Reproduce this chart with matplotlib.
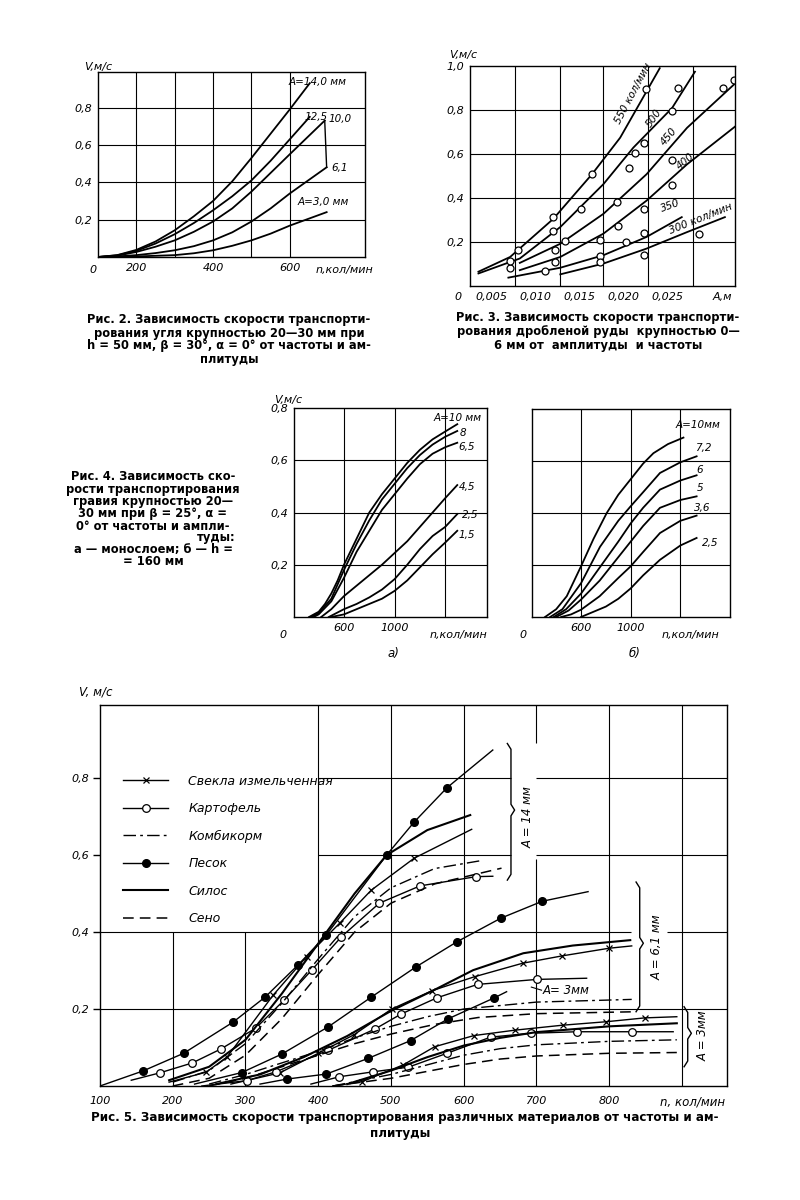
import matplotlib
matplotlib.use("Agg")
import matplotlib.pyplot as plt

W, H = 800, 1200
plt.rcParams["font.family"] = ["DejaVu Sans"]
plt.rcParams["font.style"] = "italic"
plt.rcParams["axes.linewidth"] = 1.0

# ---------------- Fig. 2: V(n) for coal, amplitude curves ----------------
fig2_a140_n = [100, 150, 200, 250, 300, 350, 400, 450, 500, 550, 600, 652]
fig2_a140_v = [0, 0.01, 0.038, 0.083, 0.143, 0.218, 0.30, 0.405, 0.53, 0.66, 0.79, 0.93]
fig2_a125_n = [100, 150, 200, 250, 300, 350, 400, 450, 500, 550, 600, 652]
fig2_a125_v = [0, 0.009, 0.033, 0.072, 0.122, 0.182, 0.25, 0.325, 0.41, 0.515, 0.63, 0.75]
fig2_a100_n = [100, 150, 200, 250, 300, 350, 400, 450, 500, 550, 600, 691]
fig2_a100_v = [0, 0.007, 0.027, 0.055, 0.089, 0.135, 0.19, 0.26, 0.35, 0.45, 0.55, 0.73]
fig2_a61_n = [100, 150, 200, 250, 300, 350, 400, 450, 500, 550, 600, 696]
fig2_a61_v = [0, 0.003, 0.01, 0.021, 0.036, 0.058, 0.089, 0.132, 0.19, 0.26, 0.34, 0.48]
fig2_a30_n = [100, 200, 300, 350, 400, 450, 500, 550, 600, 696]
fig2_a30_v = [0, 0.003, 0.01, 0.02, 0.036, 0.06, 0.089, 0.125, 0.168, 0.24]
fig2_grid_n = [200, 300, 400, 500, 600]
fig2_labels_n = {200: "200", 400: "400", 600: "600"}
fig2_grid_v = [0.2, 0.4, 0.6, 0.8]

# ---------------- Fig. 3: V(A) for ore, frequency curves ----------------
fig3_f550_a = [0.0035, 0.0071, 0.0120, 0.0164, 0.0196, 0.0241]
fig3_f550_v = [0.065, 0.132, 0.305, 0.508, 0.674, 0.99]
fig3_f500_a = [0.0035, 0.0082, 0.0128, 0.0177, 0.0211, 0.0255, 0.0281]
fig3_f500_v = [0.057, 0.125, 0.268, 0.463, 0.629, 0.809, 0.974]
fig3_f450_a = [0.0082, 0.0128, 0.0177, 0.0226, 0.0272, 0.0327]
fig3_f450_v = [0.105, 0.192, 0.328, 0.508, 0.719, 0.922]
fig3_f400_a = [0.0082, 0.0128, 0.0177, 0.0226, 0.0272, 0.0327]
fig3_f400_v = [0.072, 0.132, 0.238, 0.388, 0.553, 0.726]
fig3_f350_a = [0.0069, 0.0128, 0.0177, 0.0226, 0.0266]
fig3_f350_v = [0.038, 0.083, 0.14, 0.223, 0.313]
fig3_f300_a = [0.0128, 0.0177, 0.0226, 0.0272, 0.0315]
fig3_f300_v = [0.053, 0.102, 0.17, 0.245, 0.313]
fig3_pts_a = [0.0071, 0.0071, 0.0080, 0.0120, 0.0120, 0.0122, 0.0122, 0.0111, 0.0133,
              0.0152, 0.0164, 0.0173, 0.0173, 0.0173, 0.0192, 0.0193, 0.0203, 0.0206,
              0.0213, 0.0223, 0.0223, 0.0223, 0.0223, 0.0225, 0.0255, 0.0255, 0.0255,
              0.0262, 0.0286, 0.0313, 0.0325]
fig3_pts_v = [0.080, 0.114, 0.165, 0.313, 0.250, 0.165, 0.110, 0.068, 0.205,
              0.350, 0.508, 0.211, 0.135, 0.110, 0.380, 0.271, 0.200, 0.535,
              0.606, 0.651, 0.350, 0.241, 0.140, 0.895, 0.571, 0.794, 0.460,
              0.899, 0.238, 0.899, 0.937]
fig3_ticks_a = [0.005, 0.010, 0.015, 0.020, 0.025]
fig3_tick_labels = ["0,005", "0,010", "0,015", "0,020", "0,025"]
fig3_grid_a = [0.00765, 0.01277, 0.01769, 0.0228, 0.0279]
fig3_grid_v = [0.2, 0.4, 0.6, 0.8]

# ---------------- Fig. 4: V(n) for gravel, a) monolayer, b) h = 160 mm ----------------
fig4a_a10_n = [324, 400, 450, 500, 550, 600, 700, 800, 900, 1000, 1100, 1200, 1300, 1400, 1495]
fig4a_a10_v = [0, 0.02, 0.05, 0.09, 0.14, 0.2, 0.3, 0.4, 0.47, 0.53, 0.59, 0.64, 0.68, 0.71, 0.738]
fig4a_a8_n = [340, 400, 500, 600, 700, 800, 900, 1000, 1100, 1200, 1300, 1400, 1495]
fig4a_a8_v = [0, 0.015, 0.07, 0.18, 0.28, 0.37, 0.45, 0.51, 0.57, 0.62, 0.66, 0.69, 0.712]
fig4a_a65_n = [360, 400, 500, 600, 700, 800, 900, 1000, 1100, 1200, 1300, 1400, 1495]
fig4a_a65_v = [0, 0.01, 0.06, 0.15, 0.25, 0.33, 0.41, 0.47, 0.53, 0.585, 0.625, 0.65, 0.667]
fig4a_a45_n = [420, 500, 600, 700, 800, 900, 1000, 1100, 1200, 1300, 1400, 1495]
fig4a_a45_v = [0, 0.03, 0.08, 0.12, 0.16, 0.2, 0.245, 0.29, 0.345, 0.40, 0.455, 0.505]
fig4a_a25_n = [480, 600, 700, 800, 900, 1000, 1100, 1200, 1300, 1400, 1495]
fig4a_a25_v = [0, 0.03, 0.05, 0.075, 0.105, 0.145, 0.2, 0.26, 0.31, 0.345, 0.394]
fig4a_a15_n = [500, 600, 700, 800, 900, 1000, 1100, 1200, 1300, 1400, 1495]
fig4a_a15_v = [0, 0.01, 0.03, 0.05, 0.07, 0.1, 0.14, 0.19, 0.24, 0.285, 0.33]

fig4b_a10_n = [310, 400, 485, 600, 700, 807, 900, 1000, 1100, 1183, 1300, 1425]
fig4b_a10_v = [0, 0.03, 0.08, 0.195, 0.3, 0.4, 0.47, 0.53, 0.59, 0.63, 0.665, 0.69]
fig4b_a72_n = [351, 450, 600, 753, 900, 1000, 1100, 1236, 1400, 1531]
fig4b_a72_v = [0, 0.03, 0.13, 0.27, 0.37, 0.426, 0.48, 0.554, 0.595, 0.618]
fig4b_a6_n = [380, 480, 600, 750, 900, 1000, 1100, 1236, 1400, 1531]
fig4b_a6_v = [0, 0.03, 0.09, 0.19, 0.29, 0.36, 0.42, 0.49, 0.525, 0.545]
fig4b_a5_n = [400, 500, 600, 750, 900, 1000, 1100, 1236, 1400, 1531]
fig4b_a5_v = [0, 0.025, 0.067, 0.14, 0.23, 0.29, 0.35, 0.42, 0.45, 0.464]
fig4b_a36_n = [440, 520, 600, 750, 900, 1000, 1100, 1236, 1400, 1531]
fig4b_a36_v = [0, 0.01, 0.028, 0.08, 0.15, 0.195, 0.25, 0.323, 0.37, 0.39]
fig4b_a25_n = [600, 700, 800, 900, 1000, 1100, 1236, 1400, 1531]
fig4b_a25_v = [0, 0.02, 0.04, 0.07, 0.11, 0.16, 0.22, 0.275, 0.304]
fig4_grid_n = [600, 1000, 1400]
fig4_grid_v = [0.2, 0.4, 0.6]

# ---------------- Fig. 5: V(n) for different materials ----------------
# A = 14 mm
beet_14_n = [195, 246, 275, 338, 384, 430, 473, 532, 611]
beet_14_v = [0.01, 0.036, 0.076, 0.236, 0.336, 0.424, 0.509, 0.592, 0.667]
potato_14_n = [143, 182, 227, 266, 314, 353, 391, 432, 484, 540, 617, 640]
potato_14_v = [0.015, 0.034, 0.06, 0.096, 0.15, 0.223, 0.301, 0.388, 0.475, 0.52, 0.544, 0.545]
feed_14_n = [200, 250, 300, 350, 400, 450, 500, 560, 622]
feed_14_v = [0.01, 0.04, 0.11, 0.215, 0.33, 0.44, 0.515, 0.565, 0.585]
sand_14_n = [100, 159, 215, 283, 327, 372, 411, 494, 532, 577, 640]
sand_14_v = [0, 0.039, 0.085, 0.166, 0.231, 0.314, 0.392, 0.600, 0.686, 0.775, 0.873]
silage_14_n = [195, 250, 300, 350, 400, 450, 494, 550, 609]
silage_14_v = [0.015, 0.05, 0.12, 0.24, 0.37, 0.50, 0.60, 0.665, 0.704]
hay_14_n = [200, 250, 300, 350, 400, 450, 500, 560, 652]
hay_14_v = [0.0, 0.02, 0.08, 0.175, 0.29, 0.40, 0.475, 0.525, 0.566]
# A = 6.1 mm
beet_61_n = [280, 347, 400, 449, 501, 557, 615, 681, 735, 800, 831]
beet_61_v = [0.005, 0.034, 0.085, 0.133, 0.2, 0.248, 0.284, 0.319, 0.338, 0.358, 0.364]
potato_61_n = [240, 302, 342, 414, 478, 514, 563, 619, 701, 769]
potato_61_v = [0.0, 0.014, 0.037, 0.093, 0.148, 0.187, 0.229, 0.264, 0.277, 0.28]
feed_61_n = [250, 300, 350, 400, 450, 500, 550, 600, 700, 831]
feed_61_v = [0.005, 0.03, 0.06, 0.09, 0.125, 0.155, 0.18, 0.2, 0.218, 0.225]
sand_61_n = [230, 295, 350, 414, 473, 534, 591, 651, 708, 771]
sand_61_v = [0.005, 0.035, 0.083, 0.154, 0.231, 0.309, 0.375, 0.436, 0.48, 0.505]
silage_61_n = [260, 320, 380, 440, 500, 560, 613, 682, 750, 829]
silage_61_v = [0.005, 0.03, 0.075, 0.13, 0.195, 0.25, 0.301, 0.345, 0.365, 0.379]
hay_61_n = [250, 300, 350, 400, 450, 500, 560, 620, 700, 838]
hay_61_v = [0.0, 0.02, 0.05, 0.08, 0.11, 0.135, 0.16, 0.178, 0.188, 0.193]
# A = 3 mm
beet_3_n = [420, 460, 517, 560, 614, 670, 736, 796, 849, 893]
beet_3_v = [0.0, 0.011, 0.055, 0.102, 0.131, 0.145, 0.158, 0.167, 0.177, 0.18]
potato_3_n = [390, 429, 476, 524, 577, 637, 692, 756, 832, 888]
potato_3_v = [0.005, 0.024, 0.037, 0.049, 0.085, 0.127, 0.137, 0.141, 0.141, 0.141]
feed_3_n = [420, 500, 550, 600, 650, 700, 800, 893]
feed_3_v = [0.0, 0.03, 0.055, 0.08, 0.097, 0.107, 0.116, 0.12]
sand_3_n = [320, 357, 411, 469, 527, 578, 642, 659]
sand_3_v = [0.005, 0.018, 0.031, 0.072, 0.118, 0.174, 0.229, 0.245]
silage_3_n = [440, 500, 550, 600, 650, 700, 800, 893]
silage_3_v = [0.005, 0.04, 0.075, 0.105, 0.125, 0.14, 0.155, 0.163]
hay_3_n = [420, 500, 550, 600, 650, 700, 800, 893]
hay_3_v = [0.0, 0.02, 0.038, 0.056, 0.07, 0.078, 0.085, 0.087]

fig5_ticks_n = [100, 200, 300, 400, 500, 600, 700, 800]
fig5_ticks_v = [0.2, 0.4, 0.6, 0.8]
materials = ["Свекла измельченная", "Картофель", "Комбикорм", "Песок", "Силос", "Сено"]

fig = plt.figure(figsize=(8, 12), dpi=100)
fig.patch.set_facecolor("white")


def axes_px(left, top, right, bottom):
    return fig.add_axes([left / W, 1 - bottom / H, (right - left) / W, (bottom - top) / H])


def put(px, py, s, size=8, **kw):
    kw.setdefault("ha", "center")
    kw.setdefault("va", "center")
    fig.text(px / W, 1 - py / H, s, fontsize=size, **kw)


def caption(px, py, s, size=8.3):
    fig.text(px / W, 1 - py / H, s, fontsize=size, fontweight="bold", fontstyle="normal",
             ha="center", va="center", family="DejaVu Sans")


def plain_axes(ax):
    ax.tick_params(length=0, labelsize=8, pad=4)
    for sp in ax.spines.values():
        sp.set_linewidth(1.0)
    ax.set_xticks([])
    ax.set_yticks([])


def grid_lines(ax, xs, ys):
    for x in xs:
        ax.axvline(x, color="black", lw=0.8, zorder=1)
    for y in ys:
        ax.axhline(y, color="black", lw=0.8, zorder=1)


def fmt(v):
    return f"{v:.1f}".replace(".", ",")


# ---------------- Fig. 2 ----------------
ax2 = axes_px(98, 72, 365, 257)
plain_axes(ax2)
ax2.set_xlim(100, 796)
ax2.set_ylim(0, 0.99)
grid_lines(ax2, fig2_grid_n, fig2_grid_v)
ax2.set_yticks(fig2_grid_v)
ax2.set_yticklabels([fmt(v) for v in fig2_grid_v])
ax2.set_xticks(list(fig2_labels_n))
ax2.set_xticklabels(list(fig2_labels_n.values()))
for n, v in [(fig2_a140_n, fig2_a140_v), (fig2_a125_n, fig2_a125_v), (fig2_a100_n, fig2_a100_v),
             (fig2_a61_n, fig2_a61_v), (fig2_a30_n, fig2_a30_v)]:
    ax2.plot(n, v, color="black", lw=1.3)
ax2.plot([fig2_a100_n[-1], fig2_a61_n[-1]], [fig2_a100_v[-1], fig2_a61_v[-1]], color="black", lw=1.0)
put(98, 67, "V,м/с", ha="center")
put(93, 270, "0")
put(344, 270, "n,кол/мин")
put(318, 82, "A=14,0 мм", size=7.5)
put(316, 117, "12,5", size=7.5)
put(340, 119, "10,0", size=7.5)
put(340, 168, "6,1", size=7.5)
put(323, 202, "A=3,0 мм", size=7.5)
caption(229, 320, "Рис. 2. Зависимость скорости транспорти-")
caption(229, 333, "рования угля крупностью 20—30 мм при")
caption(229, 346, "h = 50 мм, β = 30°, α = 0° от частоты и ам-")
caption(229, 359, "плитуды")

# ---------------- Fig. 3 ----------------
ax3 = axes_px(470, 66, 735, 286)
plain_axes(ax3)
ax3.set_xlim(0.00254, 0.03265)
ax3.set_ylim(0, 1.0)
grid_lines(ax3, fig3_grid_a, fig3_grid_v)
ax3.set_yticks(fig3_grid_v + [1.0])
ax3.set_yticklabels([fmt(v) for v in fig3_grid_v + [1.0]])
ax3.set_xticks(fig3_ticks_a)
ax3.set_xticklabels(fig3_tick_labels)
for a, v in [(fig3_f550_a, fig3_f550_v), (fig3_f500_a, fig3_f500_v), (fig3_f450_a, fig3_f450_v),
             (fig3_f400_a, fig3_f400_v), (fig3_f350_a, fig3_f350_v), (fig3_f300_a, fig3_f300_v)]:
    ax3.plot(a, v, color="black", lw=1.3)
ax3.plot(fig3_pts_a, fig3_pts_v, ls="none", marker="o", ms=5, mfc="white", mec="black", mew=0.9)
ax3.text(0.0211, 0.877, "550 кол/мин", rotation=62, fontsize=7.5, ha="center", va="center")
ax3.text(0.0234, 0.764, "500", rotation=55, fontsize=7.5, ha="center", va="center")
ax3.text(0.0251, 0.681, "450", rotation=50, fontsize=7.5, ha="center", va="center")
ax3.text(0.0270, 0.568, "400", rotation=40, fontsize=7.5, ha="center", va="center")
ax3.text(0.0253, 0.365, "350", rotation=20, fontsize=7.5, ha="center", va="center")
ax3.text(0.0287, 0.305, "300 кол/мин", rotation=22, fontsize=7.5, ha="center", va="center")
put(463, 55, "V,м/с")
put(458, 297, "0")
put(722, 297, "А,м")
caption(598, 318, "Рис. 3. Зависимость скорости транспорти-")
caption(598, 332, "рования дробленой руды  крупностью 0—")
caption(598, 346, "6 мм от  амплитуды  и частоты")

# ---------------- Fig. 4 ----------------
ax4a = axes_px(294, 408, 487, 617)
ax4b = axes_px(532, 409, 730, 617)
for ax, right in [(ax4a, 1730), (ax4b, 1800)]:
    plain_axes(ax)
    ax.set_xlim(205, right)
    ax.set_ylim(0, 0.8)
    grid_lines(ax, fig4_grid_n, fig4_grid_v)
    ax.set_xticks(fig4_grid_n[:2])
    ax.set_xticklabels(["600", "1000"])
ax4a.set_yticks(fig4_grid_v + [0.8])
ax4a.set_yticklabels([fmt(v) for v in fig4_grid_v + [0.8]])
for n, v in [(fig4a_a10_n, fig4a_a10_v), (fig4a_a8_n, fig4a_a8_v), (fig4a_a65_n, fig4a_a65_v),
             (fig4a_a45_n, fig4a_a45_v), (fig4a_a25_n, fig4a_a25_v), (fig4a_a15_n, fig4a_a15_v)]:
    ax4a.plot(n, v, color="black", lw=1.3)
for n, v in [(fig4b_a10_n, fig4b_a10_v), (fig4b_a72_n, fig4b_a72_v), (fig4b_a6_n, fig4b_a6_v),
             (fig4b_a5_n, fig4b_a5_v), (fig4b_a36_n, fig4b_a36_v), (fig4b_a25_n, fig4b_a25_v)]:
    ax4b.plot(n, v, color="black", lw=1.3)
put(288, 400, "V,м/с")
put(283, 635, "0")
put(458, 635, "n,кол/мин")
put(393, 653, "а)", size=8.5)
put(458, 418, "A=10 мм", size=7.5)
put(463, 433, "8", size=7.5)
put(467, 447, "6,5", size=7.5)
put(467, 487, "4,5", size=7.5)
put(470, 515, "2,5", size=7.5)
put(467, 535, "1,5", size=7.5)
put(523, 635, "0")
put(690, 635, "n,кол/мин")
put(635, 653, "б)", size=8.5)
put(698, 425, "A=10мм", size=7.5)
put(703, 448, "7,2", size=7.5)
put(700, 470, "6", size=7.5)
put(700, 488, "5", size=7.5)
put(702, 508, "3,6", size=7.5)
put(710, 543, "2,5", size=7.5)
for py, s in [(477, "Рис. 4. Зависимость ско-"), (489, "рости транспортирования"),
              (501, "гравия крупностью 20—"), (513, "30 мм при β = 25°, α ="),
              (526, "0° от частоты и ампли-"), (562, "= 160 мм")]:
    caption(153, py, s)
caption(216, 538, "туды:")
caption(153, 550, "а — моноcлоем; б — h =")

# ---------------- Fig. 5 ----------------
ax5 = axes_px(100, 705, 727, 1086)
ax5.set_xlim(100, 962)
ax5.set_ylim(0, 0.99)
for sp in ax5.spines.values():
    sp.set_linewidth(1.0)
ax5.set_xticks(fig5_ticks_n)
ax5.set_xticklabels([str(t) for t in fig5_ticks_n])
ax5.set_yticks(fig5_ticks_v)
ax5.set_yticklabels([fmt(v) for v in fig5_ticks_v])
ax5.tick_params(axis="x", length=0, labelsize=8, pad=7)
ax5.tick_params(axis="y", length=5, width=1.0, direction="out", labelsize=8, pad=3)

gk = dict(color="black", lw=0.8, zorder=1)
ax5.vlines([200, 300], 0, 0.4, **gk)
ax5.vlines([400, 500, 600, 800, 900], 0, 0.99, **gk)
ax5.vlines(700, 0, 0.59, **gk)
ax5.vlines(700, 0.89, 0.99, **gk)
ax5.hlines(0.2, 100, 962, **gk)
ax5.hlines(0.4, 100, 830, **gk)
ax5.hlines(0.4, 880, 962, **gk)
ax5.hlines([0.6, 0.8], 400, 665, **gk)
ax5.hlines([0.6, 0.8], 700, 962, **gk)

styles = {
    "beet": dict(ls="-", lw=1.0, marker="x", ms=4.5, mew=0.9),
    "potato": dict(ls="-", lw=1.0, marker="o", ms=5.5, mfc="white", mew=0.9),
    "feed": dict(ls=(0, (9, 3, 2, 3)), lw=1.0),
    "sand": dict(ls="-", lw=1.0, marker="o", ms=5.5, mfc="black"),
    "silage": dict(ls="-", lw=1.5),
    "hay": dict(ls=(0, (7, 4)), lw=1.1),
}
series = [
    ("beet", beet_14_n, beet_14_v), ("potato", potato_14_n, potato_14_v),
    ("feed", feed_14_n, feed_14_v), ("sand", sand_14_n, sand_14_v),
    ("silage", silage_14_n, silage_14_v), ("hay", hay_14_n, hay_14_v),
    ("beet", beet_61_n, beet_61_v), ("potato", potato_61_n, potato_61_v),
    ("feed", feed_61_n, feed_61_v), ("sand", sand_61_n, sand_61_v),
    ("silage", silage_61_n, silage_61_v), ("hay", hay_61_n, hay_61_v),
    ("beet", beet_3_n, beet_3_v), ("potato", potato_3_n, potato_3_v),
    ("feed", feed_3_n, feed_3_v), ("sand", sand_3_n, sand_3_v),
    ("silage", silage_3_n, silage_3_v), ("hay", hay_3_n, hay_3_v),
]
for key, n, v in series:
    st = dict(styles[key])
    if "marker" in st:
        st["markevery"] = list(range(1, len(n) - 1))
    ax5.plot(n, v, color="black", mec="black", zorder=3, **st)

handles = []
for key, name in zip(["beet", "potato", "feed", "sand", "silage", "hay"], materials):
    h, = ax5.plot([], [], color="black", mec="black", label=name, **styles[key])
    handles.append(h)
ax5.legend(handles=handles, loc="upper left", bbox_to_anchor=(0.037, 0.817), frameon=False,
           fontsize=9, handlelength=3.6, handletextpad=1.6, labelspacing=1.16,
           borderpad=0, borderaxespad=0, numpoints=1)


def brace(ax, x, y0, y1, ymid, w=5, h=0.015):
    xs = [x - w, x, x, x + w, x, x, x - w]
    ys = [y1, y1 - h, ymid + h, ymid, ymid - h, y0 + h, y0]
    ax.plot(xs, ys, color="black", lw=1.0)


brace(ax5, 665, 0.535, 0.89, 0.717)
brace(ax5, 842, 0.193, 0.53, 0.371)
brace(ax5, 908, 0.05, 0.206, 0.137)
ax5.text(688, 0.70, "A = 14 мм", rotation=90, fontsize=8.5, ha="center", va="center")
ax5.text(866, 0.36, "A = 6,1 мм", rotation=90, fontsize=8.5, ha="center", va="center")
ax5.text(929, 0.13, "A = 3мм", rotation=90, fontsize=8.5, ha="center", va="center")
ax5.plot([693, 707], [0.257, 0.249], color="black", lw=0.8)
ax5.text(709, 0.249, "A= 3мм", fontsize=8.5, ha="left", va="center")
put(96, 692, "V, м/с", size=8.5)
put(693, 1102, "n, кол/мин", size=8.5)
caption(405, 1118, "Рис. 5. Зависимость скорости транспортирования различных материалов от частоты и ам-",
        size=8.6)
caption(400, 1133, "плитуды", size=8.6)

fig.savefig("out.png", dpi=100, facecolor="white")
